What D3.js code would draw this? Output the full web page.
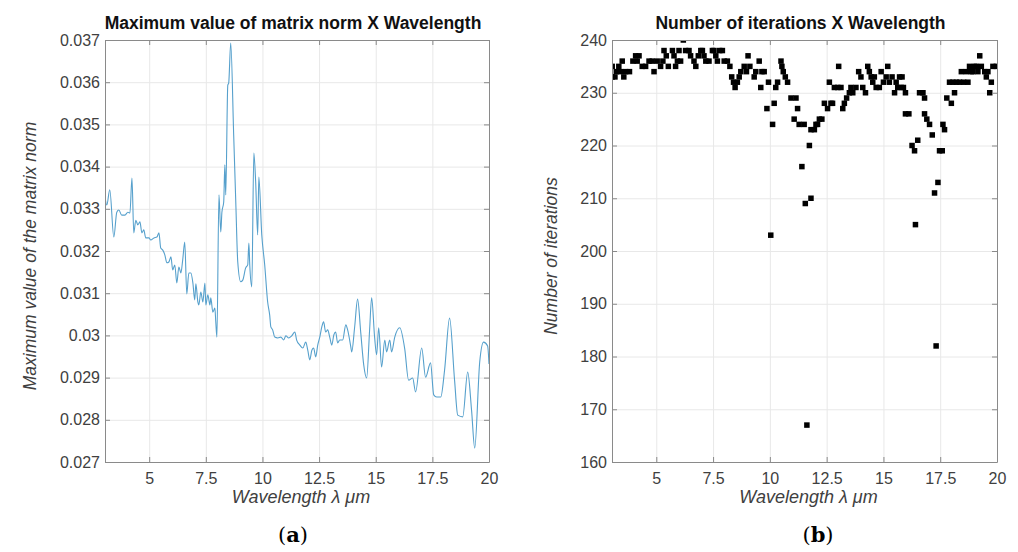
<!DOCTYPE html>
<html>
<head>
<meta charset="utf-8">
<script src="https://cdn.jsdelivr.net/npm/d3@7"></script>
<style>
  body { margin: 0; background: #fff; }
  svg { font-family: "Liberation Sans", Arial, sans-serif; }
</style>
</head>
<body>
<div id="chart"></div>
<script>
// panel (a): maximum value of matrix norm vs wavelength
const wlNorm = [3.05, 3.13, 3.26, 3.44, 3.57, 3.66, 3.79, 3.93, 4.06, 4.15, 4.24, 4.32, 4.41, 4.50, 4.59, 4.68, 4.76, 4.85, 4.99, 5.07,
  5.21, 5.34, 5.43, 5.51, 5.60, 5.69, 5.78, 5.87, 5.96, 6.04, 6.13, 6.22, 6.31, 6.40, 6.48, 6.57, 6.66, 6.75, 6.84, 6.93,
  7.01, 7.06, 7.15, 7.19, 7.28, 7.37, 7.46, 7.50, 7.59, 7.68, 7.72, 7.81, 7.90, 7.94, 7.99, 8.08, 8.16, 8.21, 8.29, 8.34,
  8.38, 8.47, 8.51, 8.60, 8.73, 8.82, 8.91, 9.04, 9.13, 9.26, 9.35, 9.40, 9.44, 9.53, 9.62, 9.70, 9.79, 9.84, 9.97, 10.10,
  10.23, 10.32, 10.37, 10.45, 10.54, 10.68, 10.81, 10.94, 11.03, 11.16, 11.29, 11.43, 11.51, 11.65, 11.78, 11.91, 12.00, 12.09, 12.18, 12.26,
  12.35, 12.44, 12.53, 12.62, 12.70, 12.79, 12.88, 12.97, 13.06, 13.15, 13.23, 13.32, 13.41, 13.54, 13.68, 13.76, 13.90, 13.94, 14.07, 14.20,
  14.34, 14.47, 14.60, 14.73, 14.82, 14.95, 15.04, 15.13, 15.26, 15.40, 15.48, 15.62, 15.70, 15.84, 16.06, 16.28, 16.45, 16.63, 16.76, 17.03,
  17.20, 17.42, 17.56, 17.69, 17.87, 18.04, 18.26, 18.48, 18.62, 18.84, 19.06, 19.23, 19.37, 19.59, 19.76, 19.94, 20.00];
const normMax = [0.03328, 0.03309, 0.03345, 0.03233, 0.03292, 0.03297, 0.03285, 0.03285, 0.03292, 0.03290, 0.03373, 0.03243, 0.03273, 0.03262, 0.03269, 0.03243, 0.03250, 0.03231, 0.03231, 0.03226,
  0.03231, 0.03233, 0.03243, 0.03207, 0.03202, 0.03191, 0.03172, 0.03174, 0.03186, 0.03155, 0.03167, 0.03124, 0.03162, 0.03148, 0.03179, 0.03221, 0.03098, 0.03148, 0.03148, 0.03124,
  0.03084, 0.03122, 0.03079, 0.03072, 0.03103, 0.03079, 0.03124, 0.03072, 0.03096, 0.03072, 0.03089, 0.03055, 0.03065, 0.03032, 0.02996, 0.03333, 0.03245, 0.03292, 0.03316, 0.03404,
  0.03333, 0.03593, 0.03598, 0.03693, 0.03475, 0.03321, 0.03174, 0.03127, 0.03131, 0.03160, 0.03167, 0.03219, 0.03167, 0.03115, 0.03432, 0.03364, 0.03238, 0.03375, 0.03238, 0.03167,
  0.03079, 0.03048, 0.03020, 0.03013, 0.02996, 0.02994, 0.02996, 0.02989, 0.02999, 0.02994, 0.02999, 0.03008, 0.02989, 0.02977, 0.02970, 0.02984, 0.02965, 0.02942, 0.02965, 0.02970,
  0.02949, 0.02977, 0.02996, 0.03020, 0.03032, 0.03008, 0.03013, 0.02996, 0.02977, 0.03001, 0.03008, 0.02982, 0.02989, 0.02989, 0.03025, 0.03013, 0.02973, 0.02961, 0.03020, 0.03086,
  0.03006, 0.02930, 0.02899, 0.03013, 0.03089, 0.02996, 0.02954, 0.03018, 0.02925, 0.02989, 0.02961, 0.02989, 0.02961, 0.02996, 0.03018, 0.02968, 0.02894, 0.02899, 0.02866, 0.02970,
  0.02901, 0.02935, 0.02859, 0.02854, 0.02854, 0.02918, 0.03041, 0.02894, 0.02811, 0.02807, 0.02913, 0.02823, 0.02733, 0.02937, 0.02984, 0.02975, 0.02932];

// panel (b): number of iterations vs wavelength
const wlIter = [3.06, 3.06, 3.18, 3.24, 3.35, 3.43, 3.50, 3.57, 3.65, 3.82, 3.97, 4.09, 4.16, 4.24, 4.38, 4.53, 4.68, 4.82, 4.90, 5.04,
  5.19, 5.29, 5.34, 5.44, 5.53, 5.71, 5.78, 5.85, 5.93, 6.00, 6.07, 6.19, 6.29, 6.44, 6.51, 6.66, 6.74, 6.85, 6.96, 7.03,
  7.10, 7.18, 7.32, 7.47, 7.54, 7.62, 7.69, 7.79, 7.91, 7.99, 8.13, 8.24, 8.32, 8.40, 8.47, 8.57, 8.65, 8.72, 8.87, 8.97,
  9.04, 9.12, 9.31, 9.38, 9.53, 9.60, 9.65, 9.75, 9.87, 9.94, 10.04, 10.12, 10.19, 10.26, 10.34, 10.49, 10.53, 10.59, 10.68, 10.78,
  10.93, 11.07, 11.15, 11.22, 11.29, 11.41, 11.51, 11.56, 11.63, 11.74, 11.81, 11.81, 11.96, 12.03, 12.10, 12.18, 12.29, 12.40, 12.54, 12.62,
  12.69, 12.76, 12.84, 12.99, 13.03, 13.13, 13.21, 13.28, 13.38, 13.50, 13.57, 13.65, 13.79, 13.91, 14.01, 14.09, 14.21, 14.31, 14.38, 14.46,
  14.53, 14.60, 14.68, 14.82, 14.90, 15.00, 15.12, 15.19, 15.26, 15.38, 15.49, 15.56, 15.63, 15.71, 15.78, 15.82, 15.88, 15.97, 15.97, 16.12,
  16.26, 16.37, 16.41, 16.51, 16.59, 16.74, 16.81, 16.81, 16.91, 17.03, 17.15, 17.25, 17.32, 17.40, 17.47, 17.59, 17.62, 17.69, 17.79, 17.91,
  17.99, 18.06, 18.13, 18.21, 18.35, 18.43, 18.53, 18.65, 18.72, 18.79, 18.87, 18.94, 19.01, 19.09, 19.16, 19.24, 19.31, 19.46, 19.53, 19.60,
  19.68, 19.75, 19.82, 19.97];
const iterCount = [233, 235, 233, 234, 235, 234, 236, 233, 234, 234, 236, 237, 236, 237, 235, 235, 236, 236, 234, 236,
  235, 236, 238, 237, 235, 238, 237, 235, 236, 238, 236, 240, 238, 238, 237, 236, 235, 237, 238, 238,
  237, 236, 236, 238, 238, 237, 236, 238, 238, 236, 236, 235, 233, 232, 231, 232, 233, 234, 235, 234,
  237, 235, 233, 234, 236, 231, 234, 234, 227, 232, 203, 224, 228, 231, 232, 236, 235, 234, 233, 232,
  229, 225, 229, 227, 224, 216, 224, 209, 167, 220, 210, 223, 223, 224, 224, 225, 225, 228, 227, 232,
  228, 228, 231, 231, 235, 231, 227, 228, 229, 230, 231, 230, 231, 234, 233, 231, 230, 235, 234, 233,
  232, 233, 231, 231, 234, 232, 233, 235, 232, 233, 230, 232, 231, 233, 231, 233, 231, 230, 226, 226,
  220, 219, 205, 221, 230, 230, 229, 226, 225, 224, 222, 211, 182, 213, 219, 219, 224, 223, 229, 232,
  228, 232, 230, 232, 232, 234, 232, 234, 232, 235, 234, 234, 235, 235, 234, 237, 235, 234, 233, 234,
  230, 232, 235, 235];

const wlTicks = [5, 7.5, 10, 12.5, 15, 17.5, 20];
const normTicks = [0.027, 0.028, 0.029, 0.03, 0.031, 0.032, 0.033, 0.034, 0.035, 0.036, 0.037];
const iterTicks = [160, 170, 180, 190, 200, 210, 220, 230, 240];

const svg = d3.select('#chart')
  .append('svg')
  .attr('width', 1018)
  .attr('height', 552);

function drawPanel(p) {
  const x = d3.scaleLinear().domain([3.05, 20]).range([p.left, p.right]);
  const y = d3.scaleLinear().domain(p.yDomain).range([462, 40]);
  const g = svg.append('g');
  const h = 462 - 40;
  const w = p.right - p.left;

  // grid
  g.append('g')
    .attr('transform', 'translate(0,462)')
    .call(d3.axisBottom(x).tickValues(wlTicks).tickSize(-h).tickFormat(''))
    .call(a => a.select('.domain').remove())
    .selectAll('line').attr('stroke', '#e8e8e8');
  g.append('g')
    .attr('transform', `translate(${p.left},0)`)
    .call(d3.axisLeft(y).tickValues(p.yTicks).tickSize(-w).tickFormat(''))
    .call(a => a.select('.domain').remove())
    .selectAll('line').attr('stroke', '#e8e8e8');

  g.append('clipPath').attr('id', p.id + '-clip')
    .append('rect').attr('x', p.left).attr('y', 40).attr('width', w).attr('height', h);

  p.drawMarks(g.append('g').attr('clip-path', `url(#${p.id}-clip)`), x, y);

  // box + inward ticks on all sides
  const axes = [
    [d3.axisBottom(x).tickValues(wlTicks), 'translate(0,462)'],
    [d3.axisTop(x).tickValues(wlTicks), 'translate(0,40)'],
    [d3.axisLeft(y).tickValues(p.yTicks), `translate(${p.left},0)`],
    [d3.axisRight(y).tickValues(p.yTicks), `translate(${p.right},0)`]
  ];
  axes.forEach(([ax, tr]) => {
    const a = g.append('g').attr('transform', tr)
      .call(ax.tickSizeInner(-5).tickSizeOuter(0).tickFormat(''));
    a.select('.domain').attr('stroke', '#8a8a8a');
    a.selectAll('line').attr('stroke', '#8a8a8a');
  });

  // tick labels
  g.append('g').attr('transform', 'translate(0,462)')
    .call(d3.axisBottom(x).tickValues(wlTicks).tickSize(0).tickPadding(11).tickFormat(d => d))
    .call(a => a.select('.domain').remove())
    .selectAll('text').attr('font-size', 16).attr('fill', '#404040')
    .attr('font-family', '"Liberation Sans", Arial, sans-serif');
  g.append('g').attr('transform', `translate(${p.left},0)`)
    .call(d3.axisLeft(y).tickValues(p.yTicks).tickSize(0).tickPadding(p.yPad).tickFormat(p.yFormat))
    .call(a => a.select('.domain').remove())
    .selectAll('text').attr('font-size', 16).attr('fill', '#404040')
    .attr('font-family', '"Liberation Sans", Arial, sans-serif');

  // titles
  g.append('text')
    .attr('x', (p.left + p.right) / 2 - 4).attr('y', 29)
    .attr('text-anchor', 'middle')
    .attr('font-weight', 'bold').attr('font-size', 17.5).attr('fill', '#111')
    .text(p.title);
  g.append('text')
    .attr('x', (p.left + p.right) / 2 + 4).attr('y', 503)
    .attr('text-anchor', 'middle')
    .attr('font-style', 'italic').attr('font-size', 18).attr('fill', '#404040')
    .text('Wavelength λ μm');
  g.append('text')
    .attr('transform', `translate(${p.yLabelX},256) rotate(-90)`)
    .attr('text-anchor', 'middle')
    .attr('font-style', 'italic').attr('font-size', 17.5).attr('fill', '#404040')
    .text(p.yLabel);

  // panel letter
  const lab = g.append('text')
    .attr('x', p.letterX).attr('y', 542)
    .attr('text-anchor', 'middle')
    .attr('font-family', '"DejaVu Serif", "Liberation Serif", serif')
    .attr('font-size', 21).attr('fill', '#000');
  lab.append('tspan').text('(');
  lab.append('tspan').attr('font-weight', 'bold').text(p.letter);
  lab.append('tspan').text(')');
}

drawPanel({
  id: 'a', left: 105, right: 489,
  yDomain: [0.027, 0.037], yTicks: normTicks, yPad: 5,
  yFormat: d => String(+d.toFixed(3)),
  title: 'Maximum value of matrix norm X Wavelength',
  yLabel: 'Maximum value of the matrix norm', yLabelX: 36,
  letter: 'a', letterX: 293,
  drawMarks: (g, x, y) => {
    const line = d3.line()
      .x(i => x(wlNorm[i]))
      .y(i => y(normMax[i]))
      .curve(d3.curveMonotoneX);
    g.append('path')
      .datum(d3.range(wlNorm.length))
      .attr('d', line)
      .attr('fill', 'none')
      .attr('stroke', '#56a0cc')
      .attr('stroke-width', 1.1);
  }
});

drawPanel({
  id: 'b', left: 612, right: 997,
  yDomain: [160, 240], yTicks: iterTicks, yPad: 5,
  yFormat: d => d,
  title: 'Number of iterations X Wavelength',
  yLabel: 'Number of iterations', yLabelX: 557,
  letter: 'b', letterX: 818,
  drawMarks: (g, x, y) => {
    g.selectAll('rect')
      .data(d3.range(wlIter.length))
      .enter()
      .append('rect')
      .attr('x', i => x(wlIter[i]) - 2.75)
      .attr('y', i => y(iterCount[i]) - 2.75)
      .attr('width', 5.5)
      .attr('height', 5.5)
      .attr('fill', '#000');
  }
});
</script>
</body>
</html>
